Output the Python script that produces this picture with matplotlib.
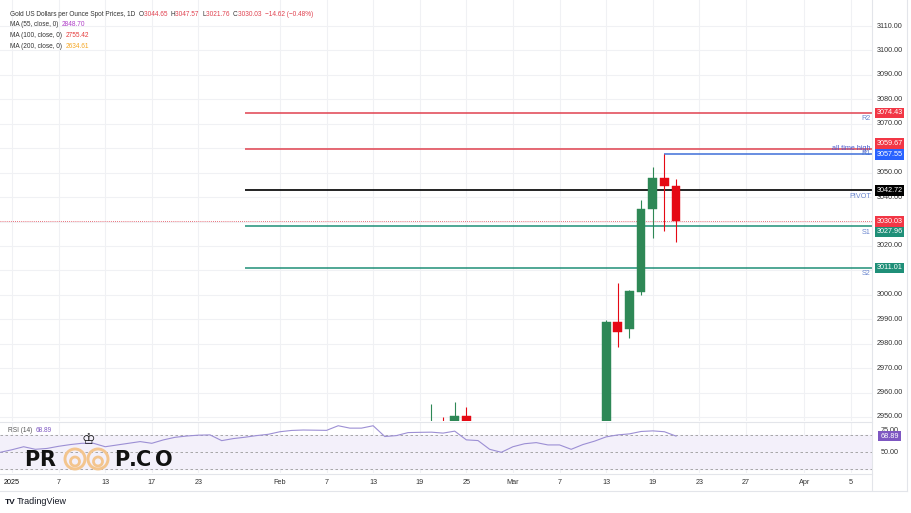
import matplotlib
matplotlib.use("Agg")
import matplotlib.pyplot as plt
import matplotlib.transforms as mtransforms
from matplotlib.patches import Ellipse
from matplotlib.lines import Line2D
from matplotlib import font_manager as fm
import numpy as np

# ---------------- data ----------------
# bar index: 0 = 2025-01-01 (trading days; future bars are calendar days)
candle_idx = [36, 37, 38, 39, 51, 52, 53, 54, 55, 56, 57]
candle_open = [2934.0, 2940.0, 2936.0, 2950.5, 2934.0, 2989.0, 2985.9, 3001.3, 3035.0, 3047.7, 3044.65]
candle_high = [2955.3, 2950.1, 2956.3, 2954.0, 2989.5, 3005.0, 3001.8, 3038.8, 3052.2, 3057.55, 3047.57]
candle_low = [2925.0, 2920.0, 2930.0, 2888.0, 2930.0, 2978.8, 2982.5, 2999.9, 3023.1, 3026.1, 3021.76]
candle_close = [2940.0, 2936.0, 2950.5, 2915.0, 2989.0, 2984.9, 3001.6, 3035.0, 3047.7, 3044.7, 3030.03]

rsi_start = -1
rsi_values = [50, 53, 56.5, 53.5, 54.5, 57, 59, 60.5, 60.5, 56.5, 58.5,
              60.5, 62.5, 60.5, 64.5, 67.5, 69, 70, 70.3, 63.6, 66,
              67.6, 69.5, 71, 74, 75.5, 76, 75.8, 75.6, 81, 78.2,
              78.2, 81, 68.4, 69.5, 73, 73.3, 73.5, 72.4, 74.7, 64.5,
              63.7, 53.5, 50, 56.5, 60, 61.3, 58.6, 58.6, 53.5, 59,
              63, 68, 70.3, 71.5, 74.3, 75, 74, 68.89]

tick_idx = [0, 4, 8, 12, 16, 23, 27, 31, 35, 39, 43, 47, 51, 55, 59, 63, 68, 72]
tick_labels = ["2025", "7", "13", "17", "23", "Feb", "7", "13", "19", "25",
               "Mar", "7", "13", "19", "23", "27", "Apr", "5"]

price_ticks = list(range(2950, 3111, 10))
rsi_ticks = [75, 50]

level_names = ["R2", "all time high", "R1", "PIVOT", "S1", "S2"]
level_values = [3074.43, 3059.67, 3057.55, 3042.72, 3027.96, 3011.01]
level_start = [20, 20, 56, 20, 20, 20]
level_colors = ["#e0414f", "#e0414f", "#3f6fd9", "#111111", "#1f8f78", "#1f8f78"]
level_box_colors = ["#f23645", "#f23645", "#2962ff", "#000000", "#1f8f78", "#1f8f78"]
# vertical nudge (px, + = up) of the right-scale boxes so they don't collide
level_box_nudge = [0, 5.5, -0.5, 0, -5.5, 0]

last_price = 3030.03
rsi_last = 68.89

legend_title = "Gold US Dollars per Ounce Spot Prices, 1D"
ohlc_parts = [("O", "3044.65"), ("H", "3047.57"), ("L", "3021.76"), ("C", "3030.03")]
change_text = "\u221214.62 (\u22120.48%)"
ma_labels = ["MA (55, close, 0)", "MA (100, close, 0)", "MA (200, close, 0)"]
ma_values = ["2848.70", "2755.42", "2634.61"]
ma_colors = ["#b03fc8", "#e53a3a", "#f5a623"]

# ---------------- fonts ----------------
_names = {f.name for f in fm.fontManager.ttflist}
if "Liberation Sans Narrow" in _names:
    UI_FONT, FS, LFS = "Liberation Sans Narrow", 6.2, 5.6
else:
    UI_FONT, FS, LFS = "Liberation Sans", 5.2, 4.7
plt.rcParams['font.family'] = [UI_FONT, 'DejaVu Sans']

# ---------------- layout ----------------
W, H = 912, 513
fig = plt.figure(figsize=(W / 100, H / 100), dpi=100)
fig.patch.set_facecolor("white")

def fx(px):
    return px / W

def fy(py):
    return 1 - py / H

PLOT_R = 872
MAIN_T, MAIN_B = 0, 421
RSI_T, RSI_B = 423, 473
SPACING = 11.65
X0 = 12.0

xlim = ((0 - X0) / SPACING, (PLOT_R - X0) / SPACING)

ax = fig.add_axes([0, fy(MAIN_B), fx(PLOT_R), (MAIN_B - MAIN_T) / H])
axr = fig.add_axes([0, fy(RSI_B), fx(PLOT_R), (RSI_B - RSI_T) / H])

ppu = 391 / 160.0
ylo, yhi = 2950 - (MAIN_B - 417) / ppu, 3110 + (26 - MAIN_T) / ppu
ax.set_ylim(ylo, yhi)
ax.set_xlim(*xlim)
rpu = 0.857
axr.set_ylim(50 - (RSI_B - 452.3) / rpu, 50 + (452.3 - RSI_T) / rpu)
axr.set_xlim(*xlim)

def price_to_px(v):
    return MAIN_T + (yhi - v) / (yhi - ylo) * (MAIN_B - MAIN_T)

for a in (ax, axr):
    a.set_xticks([])
    a.set_yticks([])
    for s in a.spines.values():
        s.set_visible(False)
    a.set_facecolor("white")

grid_c = "#f0f1f4"
for t in tick_idx:
    ax.axvline(t, color=grid_c, lw=0.8, zorder=0)
    axr.axvline(t, color=grid_c, lw=0.8, zorder=0)
for p in price_ticks:
    ax.axhline(p, color=grid_c, lw=0.8, zorder=0)

# ---------------- candles ----------------
up_c, dn_c = "#2e8856", "#e50914"
cols = [up_c if c >= o else dn_c for o, c in zip(candle_open, candle_close)]
ax.vlines(candle_idx, candle_low, candle_high, colors=cols, lw=0.8, zorder=3)
bottoms = [min(o, c) for o, c in zip(candle_open, candle_close)]
heights = [max(abs(c - o), 0.3) for o, c in zip(candle_open, candle_close)]
ax.bar(candle_idx, heights, bottom=bottoms, width=0.75, color=cols, edgecolor=cols, lw=0.3, zorder=4)

# ---------------- levels ----------------
for name, val, st, c in zip(level_names, level_values, level_start, level_colors):
    lw = 1.3 if name == "PIVOT" else 1.1
    ax.hlines(val, st, xlim[1], colors=c, lw=lw, zorder=2)

ax.axhline(last_price, color="#e0414f", lw=0.6, ls=(0, (1, 1.5)), zorder=2)

txt_c = "#6a86cf"
tx = xlim[1] - 0.1
for name, val in zip(level_names, level_values):
    if name == "all time high":
        ax.text(tx, val + 0.3, name, ha="right", va="center", fontsize=FS, color="#4b5bd0", zorder=5)
    elif name == "R1":
        ax.text(tx, val + 0.2, name, ha="right", va="center", fontsize=FS, color=txt_c, zorder=1)
    else:
        ax.text(tx, val - 0.9, name, ha="right", va="top", fontsize=FS, color=txt_c, zorder=5)

# ---------------- right price scale ----------------
tr_main = mtransforms.blended_transform_factory(fig.transFigure, ax.transData)
LX = fx(889.5)

box_vals = level_values + [last_price]
box_cols = level_box_colors + ["#f23645"]
box_nudge = level_box_nudge + [0]
box_px = [price_to_px(v) - dn for v, dn in zip(box_vals, box_nudge)]

for p in price_ticks:
    # the scale hides tick labels that sit under a value box
    if min(abs(price_to_px(p) - b) for b in box_px) < 6.5:
        continue
    ax.text(LX, p, f"{p:.2f}", transform=tr_main, ha="center", va="center",
            fontsize=FS, color="#333333", clip_on=False, zorder=1)

for v, c, dn in zip(box_vals, box_cols, box_nudge):
    trn = mtransforms.offset_copy(tr_main, fig=fig, x=0, y=dn, units="dots")
    ax.text(LX, v, f"{v:.2f}", transform=trn, ha="center", va="center",
            fontsize=FS, color="white", clip_on=False, zorder=10,
            bbox=dict(boxstyle="square,pad=0.25", fc=c, ec="none"))

# ---------------- RSI ----------------
rsi_x = np.arange(len(rsi_values)) + rsi_start
axr.axhspan(30, 70, color="#f3f0fa", zorder=0)
for lvl in (70, 50, 30):
    axr.axhline(lvl, color="#9a9a9a", lw=0.6, ls=(0, (3, 3)), zorder=1)
axr.plot(rsi_x, rsi_values, color="#9c8fd4", lw=0.8, zorder=3)

tr_rsi = mtransforms.blended_transform_factory(fig.transFigure, axr.transData)
for t in rsi_ticks:
    axr.text(LX, t, f"{t:.2f}", transform=tr_rsi, ha="center", va="center",
             fontsize=FS, color="#333333", clip_on=False, zorder=1)
axr.text(LX, rsi_last, f"{rsi_last:.2f}", transform=tr_rsi, ha="center", va="center",
         fontsize=FS, color="white", clip_on=False, zorder=10,
         bbox=dict(boxstyle="square,pad=0.25", fc="#7e57c2", ec="none"))

rend = fig.canvas.get_renderer()

def put_seq(x, y, parts, size=FS):
    for s, c in parts:
        t = fig.text(fx(x), fy(y), s, fontsize=size, color=c, va="center", ha="left")
        bb = t.get_window_extent(renderer=rend)
        x += bb.width

put_seq(8, 430, [("RSI (14)  ", "#555555"), (f"{rsi_last:.2f}", "#7e57c2")], LFS)

# ---------------- x labels ----------------
tr_x = mtransforms.blended_transform_factory(axr.transData, fig.transFigure)
for t, lab in zip(tick_idx, tick_labels):
    axr.text(t, fy(482), lab, transform=tr_x, ha="center", va="center",
             fontsize=FS, color="#111111" if lab == "2025" else "#333333", clip_on=False)

# ---------------- frame lines ----------------
line_c = "#e3e5ea"
fig.add_artist(Line2D([0, fx(PLOT_R)], [fy(422), fy(422)], transform=fig.transFigure, color=line_c, lw=0.8))
fig.add_artist(Line2D([0, fx(PLOT_R)], [fy(473.5), fy(473.5)], transform=fig.transFigure, color=line_c, lw=0.8))
fig.add_artist(Line2D([fx(PLOT_R), fx(PLOT_R)], [fy(0), fy(490)], transform=fig.transFigure, color=line_c, lw=0.8))
fig.add_artist(Line2D([0, fx(907)], [fy(490.5), fy(490.5)], transform=fig.transFigure, color=line_c, lw=0.8))
fig.add_artist(Line2D([fx(907), fx(907)], [fy(0), fy(490.5)], transform=fig.transFigure, color=line_c, lw=0.8))

# ---------------- legend ----------------
seq = [(legend_title + "  ", "#333333")]
for k, v in ohlc_parts:
    seq.append((k, "#333333"))
    seq.append((v + "  ", "#e0414f"))
seq.append((change_text, "#e0414f"))
put_seq(10, 14, seq, LFS)
for i, (lab, v, c) in enumerate(zip(ma_labels, ma_values, ma_colors)):
    put_seq(10, 25 + i * 10.7, [(lab + "  ", "#333333"), (v, c)], LFS)

# ---------------- watermark logo ----------------
logo_kw = dict(fontsize=15, fontweight="bold", family=["DejaVu Sans"], color="#111111",
               va="center", ha="left")
for ch, px in [("P", 24), ("R", 39), ("P", 114), (".", 129), ("C", 136), ("O", 155)]:
    fig.text(fx(px), fy(460), ch, **logo_kw)
eye_c = "#f3c58e"
for cx in (75, 98):
    fig.add_artist(Ellipse((fx(cx), fy(459)), width=20 / W, height=20 / H,
                           transform=fig.transFigure, fill=False, ec=eye_c, lw=2.1))
    fig.add_artist(Ellipse((fx(cx), fy(461.5)), width=9 / W, height=9 / H,
                           transform=fig.transFigure, fill=False, ec=eye_c, lw=2.0))
fig.text(fx(88), fy(440), "\u2654", fontsize=11, family=["DejaVu Sans"], color="#111111",
         ha="center", va="center")

# ---------------- footer ----------------
fig.text(fx(5), fy(502), "TV", fontsize=6, fontweight="bold", color="#131722", va="center")
fig.text(fx(17), fy(502), "TradingView", fontsize=6.5, color="#131722", va="center")

fig.savefig("out.png", dpi=100, facecolor="white")
